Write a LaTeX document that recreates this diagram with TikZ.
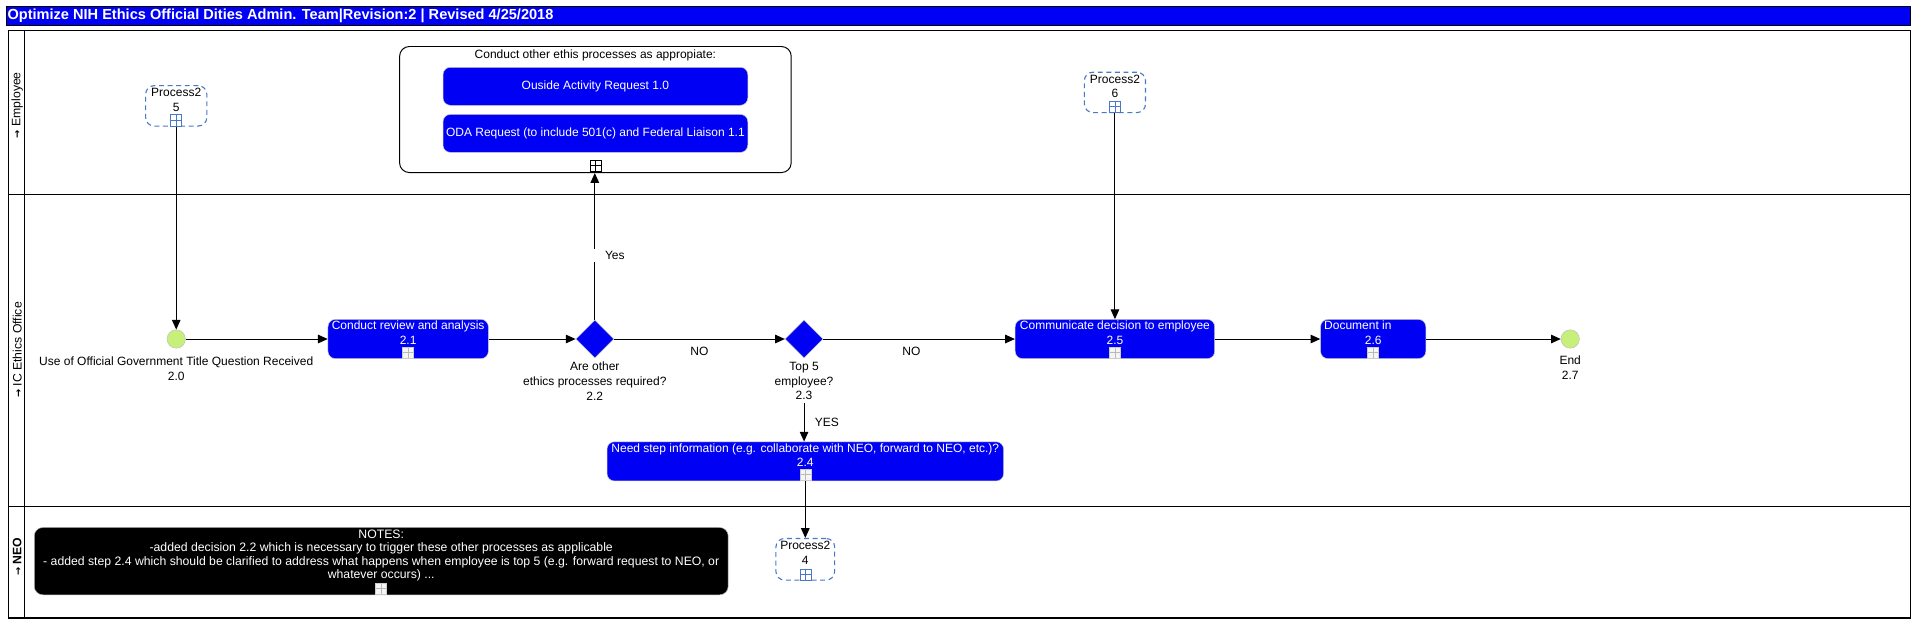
\documentclass[tikz,border=0pt]{standalone}
\usepackage{fontspec}
\setmainfont{Liberation Sans}
\newfontfamily\symfont{DejaVu Sans}
\usetikzlibrary{positioning,shapes.geometric,arrows.meta}

\definecolor{taskblue}{RGB}{0,0,245}
\definecolor{startgreen}{RGB}{198,240,122}
\definecolor{subdash}{RGB}{74,120,200}

\newcommand{\lanearrow}{{\symfont\bfseries\fontsize{8}{10}\selectfont →}}

\tikzset{
  plusmark/.style={path picture={\draw[#1,line width=0.6pt]
      (path picture bounding box.north) -- (path picture bounding box.south)
      (path picture bounding box.west) -- (path picture bounding box.east);}},
  flow/.style={line width=0.8pt,-{Triangle[length=8pt,width=7pt]}},
  lane/.style={line width=1pt},
  lanelbl/.style={rotate=90,inner sep=1pt,font=\fontsize{10}{12}\selectfont},
  titletext/.style={text=white,inner sep=1pt,font=\fontsize{11.9}{13}\selectfont\bfseries},
  task/.style={draw=gray!45,fill=taskblue,text=white,rounded corners=6pt,align=center,
    inner xsep=1pt,inner ysep=1pt,minimum height=32pt,text height=19.5pt,text depth=10.5pt},
  task2/.style={draw=gray!45,fill=taskblue,text=white,rounded corners=6pt,align=center,
    inner xsep=0pt,minimum height=31pt},
  subproc/.style={draw=subdash,line width=0.9pt,dash pattern=on 4pt off 3pt,rounded corners=7pt,
    align=center,minimum width=50pt,inner ysep=2pt,text height=19pt,text depth=10pt},
  grp/.style={draw=black,line width=0.8pt,fill=white,rounded corners=8pt,minimum width=320pt,
    inner ysep=3pt,text height=7pt,text depth=90pt},
  notes/.style={draw=gray!60,fill=black,text=white,rounded corners=7pt,align=center,
    minimum width=567pt,inner ysep=2pt,text height=39.4pt,text depth=11.6pt,
    font=\fontsize{10}{10.7}\selectfont},
  expand/.style={draw=gray!40,fill=gray!8,minimum size=9pt,inner sep=0pt,plusmark=gray!55},
  subicon/.style={draw=subdash,fill=white,minimum size=9pt,inner sep=0pt,plusmark=subdash},
  grpicon/.style={draw=black,fill=white,minimum size=9pt,inner sep=0pt,plusmark=black},
  gate/.style={diamond,draw=gray!45,fill=taskblue,minimum width=31pt,minimum height=31pt,inner sep=0pt},
  event/.style={circle,draw=gray!50,fill=startgreen,minimum size=15pt,inner sep=0pt},
  evlbl/.style={align=center,inner sep=2pt},
  gaplbl/.style={fill=white,anchor=west,xshift=-3pt,inner xsep=11pt,inner ysep=2pt},
}

\begin{document}
\begin{tikzpicture}[x=1pt,y=-1pt,font=\fontsize{9.8}{12}\selectfont]
  \useasboundingbox (0,0) rectangle (1568,508);
  % title bar
  \draw[fill=taskblue,line width=0.8pt] (5,5) rectangle (1561,21);
  \node[titletext,anchor=west] (title) at (5,13) {Optimize NIH Ethics Official Dities Admin. Team|Revision:2 | Revised 4/25/2018};
  % pool and lanes
  \draw[lane] (7,25) rectangle (1561,505);
  \draw[lane] (20,25) -- (20,505);
  \draw[lane] (7,159) -- (1561,159);
  \draw[lane] (7,414) -- (1561,414);
  \node[lanelbl] (lemp) at (14,86) {\lanearrow\ Employee};
  \node[lanelbl] (lic) at (14,286) {\lanearrow\ IC Ethics Office};
  \node[lanelbl] (lneo) at (14,455) {\lanearrow\ \textbf{NEO}};

  % Employee
  \node[subproc] (p25) at (144,86.5) {Process2\\5};
  \node[subicon,above=0.5pt of p25.south] (p25x) {};
  \node[grp] (grp) at (486.5,89.5) {Conduct other ethis processes as appropiate:};
  \node[task2,minimum width=249pt] (o10) at (486.5,70.5) {Ouside Activity Request 1.0};
  \node[task2,minimum width=249pt] (o11) at (486.5,109) {ODA Request (to include 501(c) and Federal Liaison 1.1};
  \node[grpicon,above=1.5pt of grp.south] (grpx) {};
  \node[subproc] (p26) at (911,75.5) {Process2\\6};
  \node[subicon,above=0.5pt of p26.south] (p26x) {};

  % IC Ethics Office
  \node[event] (s20) at (144,277) {};
  \node[evlbl,below=5pt of s20] (s20l) {Use of Official Government Title Question Received\\2.0};
  \node[task,minimum width=131pt] (t21) at (333.5,277) {Conduct review and analysis\\2.1};
  \node[expand,above=0.5pt of t21.south] (t21x) {};
  \node[gate] (d22) at (486,277) {};
  \node[evlbl,below=1pt of d22] (d22l) {Are other\\ethics processes required?\\2.2};
  \node[gate] (d23) at (657,277) {};
  \node[evlbl,below=1pt of d23] (d23l) {Top 5\\employee?\\2.3};
  \node[task,minimum width=324pt] (t24) at (658,377) {Need step information (e.g. collaborate with NEO, forward to NEO, etc.)?\\2.4};
  \node[expand,above=0.5pt of t24.south] (t24x) {};
  \node[task,minimum width=163pt] (t25) at (911,277) {Communicate decision to employee\\2.5};
  \node[expand,above=0.5pt of t25.south] (t25x) {};
  \node[task,minimum width=86pt] (t26) at (1122,277) {\makebox[80pt][l]{Document in}\\2.6};
  \node[expand,above=0.5pt of t26.south] (t26x) {};
  \node[event] (e27) at (1283,277) {};
  \node[evlbl,below=4pt of e27] (e27l) {End\\2.7};

  % NEO
  \node[notes] (nts) at (311.5,458.5) {NOTES:\\-added decision 2.2 which is necessary to trigger these other processes as applicable\\- added step 2.4 which should be clarified to address what happens when employee is top 5 (e.g. forward request to NEO, or\\whatever occurs) ...};
  \node[expand,above=0.5pt of nts.south] (ntsx) {};
  \node[subproc,minimum width=48pt,text depth=11pt] (p24) at (658,457) {Process2\\4};
  \node[subicon,above=0.5pt of p24.south] (p24x) {};

  % connectors
  \draw[flow] (p25.south) -- (s20);
  \draw[flow] (s20) -- (t21);
  \draw[flow] (t21) -- (d22);
  \draw[flow] (d22.north) -- (d22.north |- grp.south) node[gaplbl,pos=0.44] (lyes) {Yes};
  \draw[flow] (d22) -- (d23) node[midway,below=3pt] (lno1) {NO};
  \draw[flow] (d23l.south) -- (d23l.south |- t24.north) node[midway,right=5pt] (lyes2) {YES};
  \draw[flow] (d23) -- (t25) node[pos=0.46,below=3pt] (lno2) {NO};
  \draw[flow] (p26.south) -- (p26.south |- t25.north);
  \draw[flow] (t25) -- (t26);
  \draw[flow] (t26) -- (e27);
  \draw[flow] (t24.south) -- (t24.south |- p24.north);
\end{tikzpicture}
\end{document}
